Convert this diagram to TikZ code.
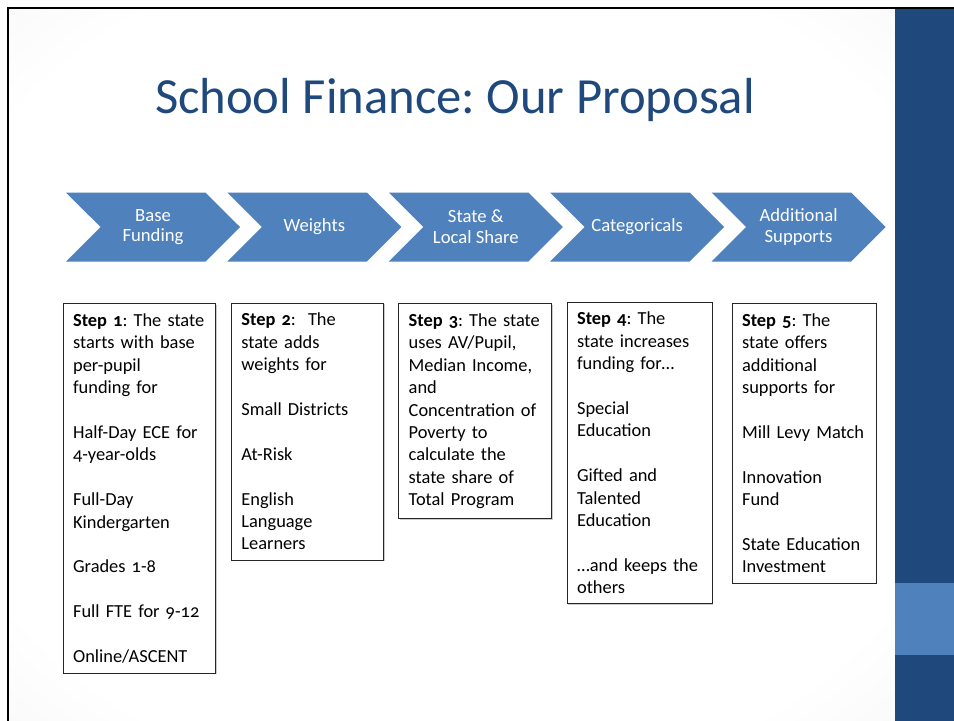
\documentclass[tikz,border=0pt]{standalone}
\usepackage{fontspec}
\setmainfont{Carlito}[Numbers=OldStyle]
\usetikzlibrary{shapes.symbols,shadows,positioning}

\definecolor{chevblue}{RGB}{79,129,189}
\definecolor{panelblue}{RGB}{31,73,125}
\definecolor{titleblue}{RGB}{31,73,125}

\pgfdeclareradialshading{slidebg}{\pgfpoint{0bp}{0bp}}{color(0bp)=(white); color(30bp)=(white); color(52bp)=(black!8); color(72bp)=(black!16)}

\newcommand{\gap}{\\[16.8pt]}
\frenchspacing

\tikzset{
  chev/.style={signal, signal from=west, signal to=east, signal pointer angle=90,
    fill=chevblue, text=white, minimum width=130.5pt, minimum height=51.75pt,
    inner sep=0pt, align=center, font=\fontsize{14}{15.5}\selectfont},
  stepbox/.style={draw=black!85, line width=0.6pt, fill=white, anchor=north west,
    align=left, inner xsep=7.5pt, inner ysep=7.5pt,
    font=\fontsize{13.8}{16.8}\selectfont,
    drop shadow={shadow xshift=0.9pt, shadow yshift=-0.9pt, fill=black!40}},
}

\begin{document}
\begin{tikzpicture}[x=0.75pt,y=-0.75pt]
  \useasboundingbox (0,0) rectangle (954,721);
  \fill[white] (0,0) rectangle (954,721);
  \shade[shading=slidebg] (8,8) rectangle (895,721);
  \fill[panelblue] (895,8) rectangle (954,721);
  \fill[chevblue] (895,583) rectangle (954,655);
  \draw[line width=1.6pt] (8,721) -- (8,8) -- (954,8);

  \node[anchor=base, text=titleblue, font=\fontsize{38}{42}\selectfont] (title) at (455,113)
    {School Finance: Our Proposal};

  \foreach \txt [count=\i] in {{Base\\Funding}, Weights, {State \&\\Local Share},
      Categoricals, {Additional\\Supports}}
    \node[chev] (c\i) at ({153+(\i-1)*161.4},227) {\txt};

  \node[stepbox, text width=99.2pt] (s1) at (62.7,303.3)
    {\textbf{Step 1}: The state\\ starts with base\\ per-pupil\\ funding for\gap
     Half-Day ECE for\\ 4-year-olds\gap Full-Day\\ Kindergarten\gap Grades 1-8\gap
     Full FTE for 9-12\gap Online/ASCENT};
  \node[stepbox, text width=99.2pt] (s2) at (231,302.7)
    {\textbf{Step 2}:~ The\\ state adds\\ weights for\gap Small Districts\gap
     At-Risk\gap English\\ Language\\ Learners};
  \node[stepbox, text width=99.5pt] (s3) at (398.3,303.3)
    {\textbf{Step 3}: The state\\ uses AV/Pupil,\\ Median Income,\\ and\\
     Concentration of\\ Poverty to\\ calculate the\\ state share of\\ Total Program};
  \node[stepbox, text width=93.7pt] (s4) at (566.7,301.7)
    {\textbf{Step 4}: The\\ state increases\\ funding for…\gap Special\\ Education\gap
     Gifted and\\ Talented\\ Education\gap …and keeps the\\ others};
  \node[stepbox, text width=93pt] (s5) at (731.7,303.3)
    {\textbf{Step 5}: The\\ state offers\\ additional\\ supports for\gap
     Mill Levy Match\gap Innovation\\ Fund\gap State Education\\ Investment};
\end{tikzpicture}
\end{document}
